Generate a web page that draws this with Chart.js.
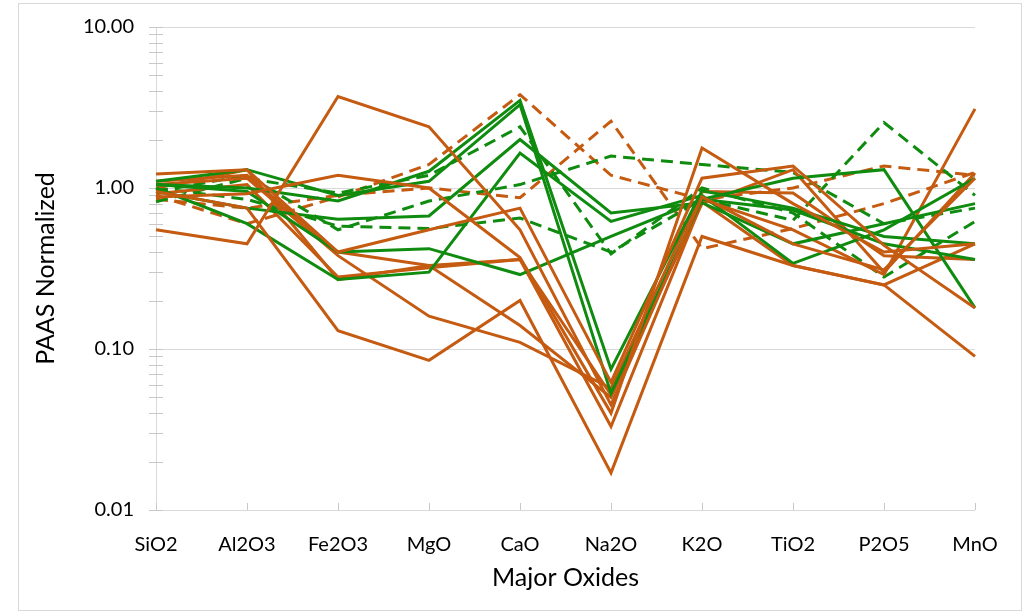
<!DOCTYPE html>
<html>
<head>
<meta charset="utf-8">
<script src="https://cdn.jsdelivr.net/npm/chart.js@4.4.1/dist/chart.umd.min.js"></script>
<style>
  html, body { margin: 0; padding: 0; background: #ffffff; }
  #wrap { position: absolute; left: 0; top: 0; width: 1028px; height: 614px; }
</style>
</head>
<body>
<div id="wrap"><canvas id="chart" width="1028" height="614"></canvas></div>
<script>
// Categories along the x axis
const oxides = ['SiO2', 'Al2O3', 'Fe2O3', 'MgO', 'CaO', 'Na2O', 'K2O', 'TiO2', 'P2O5', 'MnO'];

// Labelled decades on the log axis
const decadeTicks = [0.01, 0.1, 1, 10];

// Orange group, solid lines (PAAS-normalised values per oxide)
const orange1 = [0.55, 0.45, 3.7, 2.4, 0.55, 0.045, 0.88, 0.45, 0.31, 1.15];
const orange2 = [0.88, 0.92, 1.2, 1.0, 0.37, 0.040, 1.77, 0.80, 0.40, 0.45];
const orange3 = [0.95, 0.75, 0.13, 0.085, 0.20, 0.017, 0.50, 0.33, 0.25, 0.09];
const orange4 = [1.22, 1.30, 0.40, 0.55, 0.75, 0.062, 1.15, 1.37, 0.44, 0.18];
const orange5 = [1.00, 1.30, 0.27, 0.33, 0.14, 0.050, 0.85, 0.55, 0.29, 3.1];
const orange6 = [1.05, 1.15, 0.38, 0.16, 0.11, 0.057, 0.95, 0.93, 0.38, 0.36];
const orange7 = [0.92, 1.05, 0.28, 0.32, 0.36, 0.033, 0.82, 0.33, 0.25, 0.45];
const orange8 = [1.10, 1.20, 0.40, 0.33, 0.36, 0.052, 0.80, 1.30, 0.30, 1.24];

// Orange group, dashed lines
const orangeDash1 = [0.85, 0.75, 0.90, 1.00, 0.87, 2.6, 0.42, 0.56, 0.80, 1.25];
const orangeDash2 = [0.90, 0.60, 0.88, 1.40, 3.8, 1.2, 0.85, 1.00, 1.37, 1.20];

// Green group, solid lines
const green1 = [1.05, 1.00, 0.83, 1.27, 3.5, 0.075, 0.96, 0.75, 0.50, 0.45];
const green2 = [1.10, 1.30, 0.90, 1.10, 3.3, 0.053, 0.85, 1.15, 1.30, 0.18];
const green3 = [0.95, 0.75, 0.64, 0.67, 2.0, 0.70, 0.81, 0.45, 0.60, 0.80];
const green4 = [1.00, 0.60, 0.27, 0.30, 1.65, 0.62, 0.90, 0.34, 0.55, 1.15];
const green5 = [1.05, 0.95, 0.40, 0.42, 0.29, 0.50, 0.85, 0.73, 0.45, 0.36];

// Green group, dashed lines
const greenDash1 = [0.82, 1.15, 0.93, 1.20, 2.4, 0.39, 1.00, 0.70, 0.28, 0.62];
const greenDash2 = [0.95, 1.20, 0.55, 0.83, 1.05, 1.58, 1.40, 1.25, 0.60, 0.75];
const greenDash3 = [1.00, 0.85, 0.58, 0.56, 0.65, 0.40, 0.85, 0.63, 2.55, 0.90];

const ORANGE = '#C55A11';
const GREEN = '#0F8C0F';
const DASH = [12, 7];

function series(label, data, color, dashed) {
  return {
    label, data,
    borderColor: color,
    backgroundColor: color,
    borderWidth: 3,
    borderDash: dashed ? DASH : [],
    borderCapStyle: 'butt',
    borderJoinStyle: 'miter',
    pointRadius: 0,
    pointHoverRadius: 0,
    tension: 0,
    fill: false
  };
}

const datasets = [
  series('Orange 1', orange1, ORANGE, false),
  series('Orange 2', orange2, ORANGE, false),
  series('Orange 3', orange3, ORANGE, false),
  series('Orange 4', orange4, ORANGE, false),
  series('Green 1', green1, GREEN, false),
  series('Green 2', green2, GREEN, false),
  series('Green 3', green3, GREEN, false),
  series('Green 4', green4, GREEN, false),
  series('Green 5', green5, GREEN, false),
  series('Orange 5', orange5, ORANGE, false),
  series('Orange 6', orange6, ORANGE, false),
  series('Orange 7', orange7, ORANGE, false),
  series('Orange 8', orange8, ORANGE, false),
  series('Green dashed 1', greenDash1, GREEN, true),
  series('Green dashed 2', greenDash2, GREEN, true),
  series('Green dashed 3', greenDash3, GREEN, true),
  series('Orange dashed 1', orangeDash1, ORANGE, true),
  series('Orange dashed 2', orangeDash2, ORANGE, true)
];

// 1..9 steps inside each decade, used for the small tick marks on the value axis
const logSteps = [];
for (let i = 0; i < decadeTicks.length; i++) {
  const base = decadeTicks[i];
  if (i === decadeTicks.length - 1) { logSteps.push(base); break; }
  for (let m = 1; m <= 9; m++) logSteps.push(+(base * m).toPrecision(6));
}
const isDecade = v => Math.abs(Math.log10(v) - Math.round(Math.log10(v))) < 1e-6;

const FONT = 'Lato, "Open Sans", sans-serif';
const GRID = '#d9d9d9';

const frame = {
  id: 'frame',
  beforeDraw(chart) {
    const ctx = chart.ctx;
    ctx.save();
    ctx.fillStyle = '#ffffff';
    ctx.fillRect(0, 0, chart.width, chart.height);
    ctx.strokeStyle = GRID;
    ctx.lineWidth = 1;
    ctx.strokeRect(18.5, 3.5, 1003, 607);
    ctx.restore();
  },
  beforeDatasetsDraw(chart) {
    const { ctx, scales: { x, y } } = chart;
    ctx.save();
    ctx.strokeStyle = '#c8c8c8';
    ctx.lineWidth = 1;
    ctx.beginPath();
    y.ticks.forEach(t => {
      const py = Math.round(y.getPixelForValue(t.value)) + 0.5;
      ctx.moveTo(x.left - 7, py);
      ctx.lineTo(x.left + 7, py);
    });
    oxides.forEach((_, i) => {
      const px = Math.round(x.getPixelForValue(i)) + 0.5;
      ctx.moveTo(px, y.bottom - 7);
      ctx.lineTo(px, y.bottom);
    });
    ctx.stroke();
    ctx.restore();
  }
};

new Chart(document.getElementById('chart'), {
  type: 'line',
  data: { labels: oxides, datasets },
  options: {
    responsive: false,
    animation: false,
    devicePixelRatio: 1,
    layout: { padding: { left: 31, right: 53, top: 27, bottom: 21 } },
    plugins: { legend: { display: false }, tooltip: { enabled: false } },
    scales: {
      x: {
        type: 'category',
        offset: false,
        grid: { display: false, drawTicks: false },
        border: { display: false },
        ticks: { color: '#000', font: { family: FONT, size: 20 }, padding: 23, maxRotation: 0, autoSkip: false },
        title: { display: true, text: 'Major Oxides', color: '#000', font: { family: FONT, size: 25 }, padding: 0 },
        afterFit(s) { s.height = 83; }
      },
      y: {
        type: 'logarithmic',
        min: 0.01,
        max: 10,
        afterBuildTicks(s) {
          s.ticks = logSteps.map(v => ({ value: v, major: isDecade(v) }));
        },
        ticks: {
          color: '#000',
          font: { family: FONT, size: 20 },
          padding: 22,
          autoSkip: false,
          callback: v => (isDecade(v) ? v.toFixed(2) : '')
        },
        grid: {
          drawTicks: false,
          lineWidth: 1,
          color: c => (c.tick && isDecade(c.tick.value) ? GRID : 'rgba(0,0,0,0)')
        },
        border: { color: GRID },
        title: { display: true, text: 'PAAS Normalized', color: '#000', font: { family: FONT, size: 25 }, padding: 0 },
        afterFit(s) {
          s.width = 125;
          s.paddingTop = 0;
          s.paddingBottom = 0;
        }
      }
    }
  },
  plugins: [frame]
});
</script>
</body>
</html>
